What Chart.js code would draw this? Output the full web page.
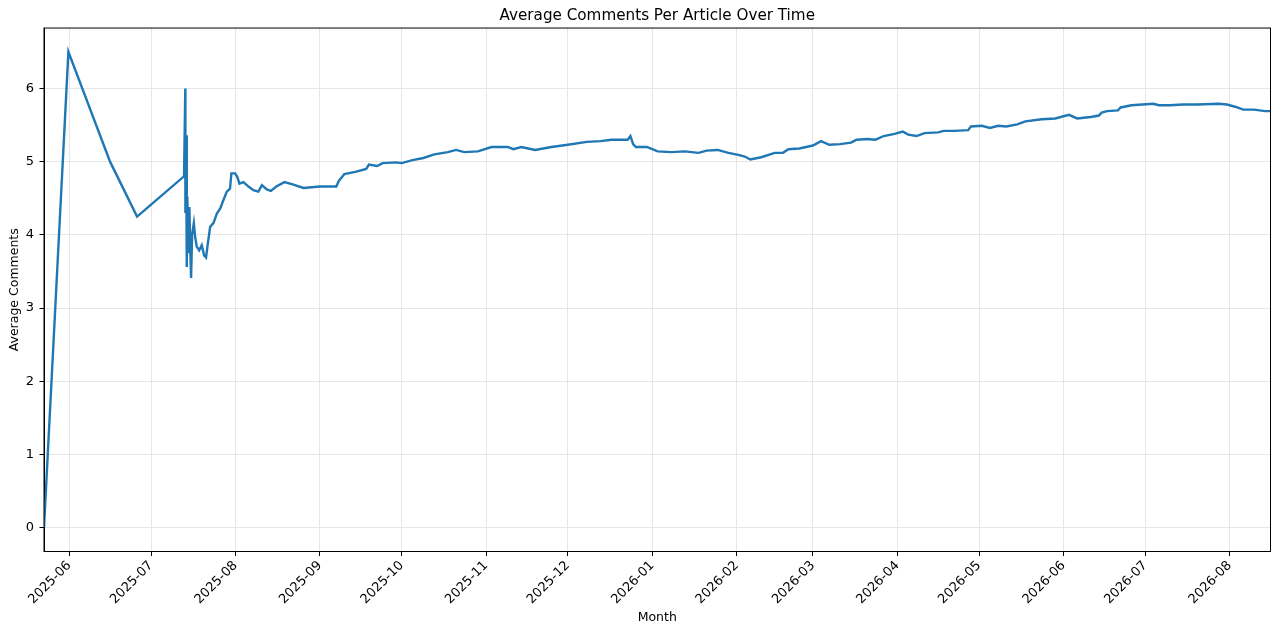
<!DOCTYPE html>
<html>
<head>
<meta charset="utf-8">
<script src="https://cdn.jsdelivr.net/npm/chart.js@4"></script>
<style>
  html, body { margin: 0; padding: 0; background: #fff; }
  #wrap { width: 1280px; height: 634px; position: relative; }
</style>
</head>
<body>
<div id="wrap"><canvas id="chart"></canvas></div>
<script>
// dates of each sample (UTC), "YYYY-MM-DD" or "YYYY-MM-DD HH:MM"
const dates = [
  "2025-05-22 17:00", "2025-05-31 16:00", "2025-06-15 23:00", "2025-06-25 21:00",
  "2025-07-13 03:00", "2025-07-13 14:00", "2025-07-13 15:00", "2025-07-13 21:00",
  "2025-07-14 03:00", "2025-07-14 08:00", "2025-07-14 17:00", "2025-07-15 02:00",
  "2025-07-15 11:00", "2025-07-15 17:00", "2025-07-16 02:00", "2025-07-16 17:00",
  "2025-07-17 05:00", "2025-07-17 19:00", "2025-07-18 16:00", "2025-07-19 15:00",
  "2025-07-20 12:00", "2025-07-21 05:00", "2025-07-21 17:00", "2025-07-22 17:00",
  "2025-07-23 22:00", "2025-07-25 04:00", "2025-07-26 10:00", "2025-07-27 15:00",
  "2025-07-28 20:00", "2025-07-30 00:00", "2025-07-30 12:00", "2025-07-31 21:00",
  "2025-08-01 17:00", "2025-08-02 11:00", "2025-08-03 22:00", "2025-08-05 19:00",
  "2025-08-07 14:00", "2025-08-09 10:00", "2025-08-10 17:00", "2025-08-12 12:00",
  "2025-08-14", "2025-08-16", "2025-08-19", "2025-08-22", "2025-08-26",
  "2025-09-01", "2025-09-07", "2025-09-08", "2025-09-10", "2025-09-14",
  "2025-09-18", "2025-09-19", "2025-09-22", "2025-09-24", "2025-09-29",
  "2025-10-01", "2025-10-05", "2025-10-09", "2025-10-13", "2025-10-18",
  "2025-10-21", "2025-10-24", "2025-10-29", "2025-11-03", "2025-11-09",
  "2025-11-11", "2025-11-14", "2025-11-19", "2025-11-25", "2025-12-01",
  "2025-12-08", "2025-12-13", "2025-12-17", "2025-12-23", "2025-12-24",
  "2025-12-25", "2025-12-26", "2025-12-30", "2026-01-03", "2026-01-08",
  "2026-01-13", "2026-01-18", "2026-01-21", "2026-01-25", "2026-01-29",
  "2026-02-02", "2026-02-04", "2026-02-06", "2026-02-10", "2026-02-15",
  "2026-02-18", "2026-02-20", "2026-02-24", "2026-03-01", "2026-03-04",
  "2026-03-07", "2026-03-11", "2026-03-15", "2026-03-17", "2026-03-21",
  "2026-03-24", "2026-03-27", "2026-03-31", "2026-04-03", "2026-04-05",
  "2026-04-08", "2026-04-11", "2026-04-16", "2026-04-18", "2026-04-22",
  "2026-04-27", "2026-04-28", "2026-05-02", "2026-05-05", "2026-05-08",
  "2026-05-11", "2026-05-15", "2026-05-18", "2026-05-24", "2026-05-29",
  "2026-06-01", "2026-06-03", "2026-06-06", "2026-06-11", "2026-06-14",
  "2026-06-15", "2026-06-17", "2026-06-21", "2026-06-22", "2026-06-26",
  "2026-06-30", "2026-07-04", "2026-07-06", "2026-07-10", "2026-07-15",
  "2026-07-20", "2026-07-28", "2026-07-31", "2026-08-03", "2026-08-06",
  "2026-08-10", "2026-08-14", "2026-08-16"
];

const avgComments = [
  0, 6.5, 5.0, 4.25,
  4.8, 6.0, 4.3, 5.36,
  3.56, 4.52, 3.75, 4.38,
  3.75, 3.41, 4.0, 4.16,
  3.97, 3.84, 3.79, 3.86,
  3.72, 3.69, 3.84, 4.11,
  4.16, 4.29, 4.36, 4.48,
  4.59, 4.63, 4.84, 4.84,
  4.79, 4.70, 4.72, 4.66,
  4.61, 4.59, 4.68, 4.62,
  4.60, 4.66, 4.72, 4.69, 4.64,
  4.66, 4.66, 4.74, 4.83, 4.86,
  4.90, 4.96, 4.94, 4.98, 4.99,
  4.98, 5.02, 5.05, 5.10, 5.13,
  5.16, 5.13, 5.14, 5.20, 5.20,
  5.17, 5.20, 5.16, 5.20, 5.23,
  5.27, 5.28, 5.30, 5.30, 5.35,
  5.24, 5.20, 5.20, 5.14, 5.13,
  5.14, 5.12, 5.15, 5.16, 5.12,
  5.09, 5.07, 5.03, 5.06, 5.12,
  5.12, 5.17, 5.18, 5.22, 5.28,
  5.23, 5.24, 5.26, 5.30, 5.31,
  5.30, 5.35, 5.38, 5.41, 5.37,
  5.35, 5.39, 5.40, 5.42, 5.42,
  5.43, 5.48, 5.49, 5.46, 5.49,
  5.48, 5.51, 5.55, 5.58, 5.59,
  5.62, 5.64, 5.59, 5.61, 5.63,
  5.67, 5.69, 5.70, 5.74, 5.77,
  5.78, 5.79, 5.77, 5.77, 5.78,
  5.78, 5.79, 5.78, 5.75, 5.71,
  5.71, 5.69, 5.69
];

const monthLabels = [
  "2025-06", "2025-07", "2025-08", "2025-09", "2025-10", "2025-11", "2025-12",
  "2026-01", "2026-02", "2026-03", "2026-04", "2026-05", "2026-06", "2026-07", "2026-08"
];
const yTicks = [0, 1, 2, 3, 4, 5, 6];

function toMs(s) {
  const [d, t = "00:00"] = s.split(" ");
  return Date.parse(d + "T" + t + ":00Z");
}

const points = dates.map((d, i) => ({ x: toMs(d), y: avgComments[i] }));
const monthTicks = monthLabels.map(m => toMs(m + "-01"));

Chart.defaults.font.family = "'DejaVu Sans', sans-serif";
Chart.defaults.color = "#000";

// matplotlib-like box around the plot area
const frame = {
  id: 'frame',
  afterDatasetsDraw(chart) {
    const { ctx, chartArea: a } = chart;
    ctx.save();
    ctx.strokeStyle = '#000';
    ctx.lineWidth = 1;
    ctx.strokeRect(a.left, a.top, a.right - a.left, a.bottom - a.top);
    ctx.restore();
  }
};

const tickFont = { size: 13 };
const gridStyle = { color: '#e6e6e6', lineWidth: 1, tickColor: '#000', tickLength: 4.5, tickWidth: 1 };

new Chart(document.getElementById('chart'), {
  type: 'line',
  data: {
    datasets: [{
      data: points,
      borderColor: '#1f77b4',
      borderWidth: 2.4,
      pointRadius: 0,
      tension: 0,
      fill: false
    }]
  },
  options: {
    responsive: true,
    maintainAspectRatio: false,
    animation: false,
    layout: { padding: { left: 0, right: 9.5, top: 0, bottom: 0 } },
    plugins: {
      legend: { display: false },
      tooltip: { enabled: false },
      title: {
        display: true,
        fullSize: false,
        text: 'Average Comments Per Article Over Time',
        color: '#000',
        font: { size: 15.2, weight: 'normal' },
        padding: { top: 6.5, bottom: 3.3 }
      }
    },
    scales: {
      x: {
        type: 'linear',
        min: points[0].x,
        max: points[points.length - 1].x,
        afterBuildTicks: s => { s.ticks = monthTicks.map(v => ({ value: v })); },
        afterFit: s => { s.height = 82.5; },
        ticks: {
          autoSkip: false,
          minRotation: 45,
          maxRotation: 45,
          padding: 2,
          font: tickFont,
          callback: (v, i) => monthLabels[i]
        },
        grid: gridStyle,
        border: { color: '#000', width: 1 },
        title: { display: true, text: 'Month', font: { size: 12.5 }, padding: { top: 0, bottom: 9 } }
      },
      y: {
        min: -0.325,
        max: 6.825,
        afterBuildTicks: s => { s.ticks = yTicks.map(v => ({ value: v })); },
        afterFit: s => { s.width = 44; },
        ticks: { padding: 5.5, font: tickFont, callback: v => String(v) },
        grid: gridStyle,
        border: { color: '#000', width: 1 },
        title: { display: true, text: 'Average Comments', font: { size: 12.5 }, padding: { top: 7, bottom: 0 } }
      }
    }
  },
  plugins: [frame]
});
</script>
</body>
</html>
